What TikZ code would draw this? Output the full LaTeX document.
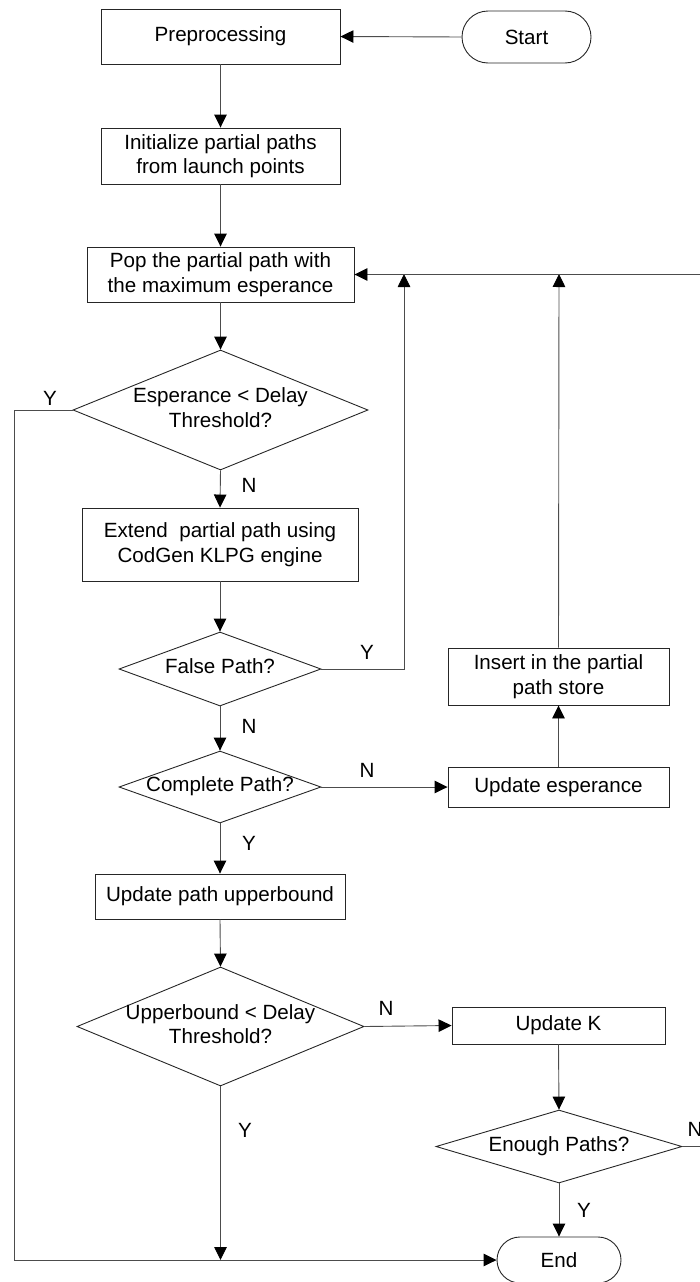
\documentclass[tikz,border=0pt]{standalone}
\usepackage{fontspec}
\setmainfont{Liberation Sans}
\usetikzlibrary{arrows.meta,shapes.geometric}

% two-line text centred on a zero-width box, so a diamond keeps its own size
\newcommand{\dtext}[1]{\makebox[0pt]{\begin{tabular}{@{}c@{}}#1\end{tabular}}}

\tikzset{
  txt/.style={font=\fontsize{20.6}{24.5}\selectfont},
  procbox/.style={txt, draw=black!85, line width=0.9pt, rectangle, inner sep=0pt, align=center},
  termbox/.style={txt, draw=black!85, line width=0.9pt, rectangle, rounded corners=23pt, inner sep=0pt},
  decision/.style={txt, draw=black!85, line width=0.9pt, diamond, inner sep=0pt},
  yn/.style={txt, inner sep=0pt},
  arr/.style={draw=black!70, line width=0.9pt, -{Triangle[length=13pt,width=12.5pt,color=black]}},
}

\begin{document}
\begin{tikzpicture}[x=1pt, y=-1pt]
\useasboundingbox (0,0) rectangle (700,1282);
\clip (0,0) rectangle (700,1282);

% main column
\node[procbox, minimum width=239pt, minimum height=55pt] (pre) at (220.5,36.5) {Preprocessing};
\node[termbox, minimum width=129pt, minimum height=52pt, rounded corners=26pt] (start) at (526.5,37) {Start};
\node[procbox, minimum width=239pt, minimum height=56pt] (init) at (220.5,156) {Initialize partial paths\\from launch points};
\node[procbox, minimum width=267pt, minimum height=55pt] (pop) at (220.5,274.5) {Pop the partial path with\\the maximum esperance};
\node[decision, minimum width=295pt, minimum height=120pt] (d1) at (220.5,410) {\dtext{Esperance < Delay\\Threshold?}};
\node[procbox, minimum width=276pt, minimum height=73pt] (ext) at (220,544.5) {Extend~ partial path using\\CodGen KLPG engine};
\node[decision, minimum width=202pt, minimum height=74pt] (fp) at (220,669) {\dtext{False Path?}};
\node[decision, minimum width=202pt, minimum height=72pt] (cp) at (220,787) {\dtext{Complete Path?}};
\node[procbox, minimum width=250pt, minimum height=45pt] (upd) at (220,896.5) {Update path upperbound};
\node[decision, minimum width=287pt, minimum height=119pt] (ub) at (220.5,1026.5) {\dtext{Upperbound < Delay\\Threshold?}};

% right column
\node[procbox, minimum width=221pt, minimum height=57pt] (ins) at (558.5,676.5) {Insert in the partial\\path store};
\node[procbox, minimum width=221pt, minimum height=40pt] (ues) at (558.5,787) {Update esperance};
\node[procbox, minimum width=213pt, minimum height=37pt] (uk) at (558.5,1025.5) {Update K};
\node[decision, minimum width=246pt, minimum height=73pt] (en) at (559,1146.5) {\dtext{Enough Paths?}};
\node[termbox, minimum width=124pt, minimum height=46pt] (end) at (559,1260) {End};

% junctions on the return line and the left rail
\coordinate (m1) at (404,274);
\coordinate (m2) at (559,274);
\coordinate (lx) at (14,0);

% straight flow
\draw[arr] (start.west) -- (pre.east);
\draw[arr] (pre.south) -- (init.north);
\draw[arr] (init.south) -- (pop.north);
\draw[arr] (pop.south) -- (d1.north);
\draw[arr] (d1.south) -- (ext.north);
\draw[arr] (ext.south) -- (fp.north);
\draw[arr] (fp.south) -- (cp.north);
\draw[arr] (cp.south) -- (upd.north);
\draw[arr] (upd.south) -- (ub.north);
\draw[arr] (ub.east) -- (uk.west);
\draw[arr] (uk.south) -- (en.north);
\draw[arr] (en.south) -- (end.north);
\draw[arr] (cp.east) -- (ues.west);
\draw[arr] (ues.north) -- (ins.south);

% loops back to the pop step
\draw[arr] (fp.east) -| (m1);
\draw[arr] (ins.north) -- (m2);
\draw[arr] (en.east) -- ++(40,0) |- (pop.east);

% exits to End
\draw[arr] (d1.west) -- (d1.west -| lx) |- (end.west);
\draw[arr] (ub.south) -- (ub.south |- end.west);

% branch labels
\node[yn] (y1) at (50,398) {Y};
\node[yn] (n1) at (249,485) {N};
\node[yn] (y2) at (367,652) {Y};
\node[yn] (n2) at (249,726) {N};
\node[yn] (n3) at (367,770) {N};
\node[yn] (y3) at (249,843) {Y};
\node[yn] (n4) at (386,1008) {N};
\node[yn] (y4) at (245,1130) {Y};
\node[yn] (n5) at (695,1129) {N};
\node[yn] (y5) at (584,1210) {Y};
\end{tikzpicture}
\end{document}
